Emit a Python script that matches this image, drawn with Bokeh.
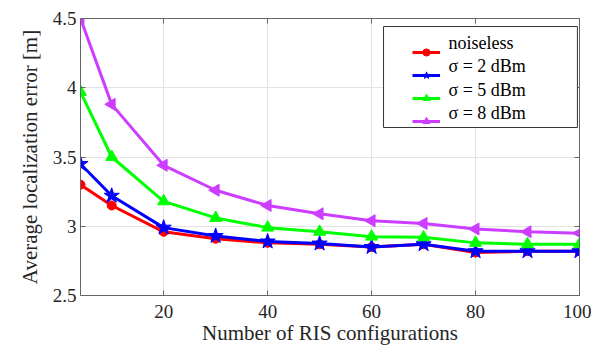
import numpy as np
from bokeh.plotting import figure
from bokeh.models import (LinearAxis, Legend, LegendItem, FixedTicker, Range1d, Label,
                          BoxAnnotation)
from bokeh.embed import file_html
from bokeh.resources import INLINE

configs = [4, 10, 20, 30, 40, 50, 60, 70, 80, 90, 100]
noiseless = [3.30, 3.15, 2.96, 2.91, 2.88, 2.87, 2.85, 2.87, 2.81, 2.82, 2.82]
sigma2 = [3.45, 3.22, 2.99, 2.93, 2.89, 2.875, 2.85, 2.87, 2.82, 2.82, 2.82]
sigma5 = [3.97, 3.50, 3.18, 3.06, 2.99, 2.96, 2.925, 2.92, 2.88, 2.87, 2.87]
sigma8 = [4.50, 3.88, 3.44, 3.26, 3.15, 3.09, 3.04, 3.02, 2.98, 2.96, 2.95]

labels = ["noiseless", "σ = 2 dBm", "σ = 5 dBm", "σ = 8 dBm"]
colors = ["#ff0000", "#0000ff", "#00ff00", "#cc3dff"]
x_ticks = [20, 40, 60, 80, 100]
y_ticks = [2.5, 3, 3.5, 4, 4.5]

FONT = "Liberation Serif"
LFONT = "'Liberation Serif', serif"

p = figure(width=591, height=347, output_backend="svg", toolbar_location=None,
           x_range=Range1d(4, 100), y_range=Range1d(2.5, 4.5),
           min_border_left=80, min_border_right=12, min_border_top=18, min_border_bottom=10)

items = []
series = [noiseless, sigma2, sigma5, sigma8]
for i, (vals, col) in enumerate(zip(series, colors)):
    r_line = p.line(configs, vals, line_color=col, line_width=3)
    if i == 0:
        r_m = p.scatter(configs, vals, marker="circle", size=9, fill_color=col, line_color=col)
    elif i == 1:
        r_m = p.scatter(configs, vals, marker="star", size=16, fill_color=col, line_color=col)
    elif i == 2:
        r_m = p.scatter(configs, vals, marker="triangle", size=12, fill_color=col, line_color=col)
    else:
        r_m = p.scatter(configs, vals, marker="triangle", size=12, angle=np.pi / 2,
                        fill_color=col, line_color=col)
    items.append(LegendItem(label=" ", renderers=[r_line, r_m]))

# legend frame (white box with dark border)
p.add_layout(BoxAnnotation(left=62.3, right=99.6, bottom=3.713, top=4.442,
                           fill_color="#ffffff", fill_alpha=1,
                           line_color="#333333", line_width=1, line_alpha=1))

legend = Legend(items=items, location=(332, 165),
                border_line_color=None, background_fill_alpha=0,
                glyph_width=28, glyph_height=18, spacing=5, padding=7,
                margin=0, label_height=18, label_width=100, label_standoff=10,
                label_text_font_size="18px")
p.add_layout(legend)

# legend texts (serif), positioned inside the legend box
label_x = 74.8
label_y = [4.325, 4.156, 3.987, 3.819]
for lab, yy in zip(labels, label_y):
    p.add_layout(Label(x=label_x, y=yy, text=lab,
                       text_font=LFONT, text_font_size="18px", text_color="#000000",
                       text_baseline="middle", text_align="left", level="overlay"))

for ax in (p.xaxis[0], p.yaxis[0]):
    ax.major_label_text_font = FONT
    ax.major_label_text_font_size = "19px"
    ax.major_label_text_color = "#262626"
    ax.axis_label_text_font = FONT
    ax.axis_label_text_font_size = "21px"
    ax.axis_label_text_font_style = "normal"
    ax.axis_label_text_color = "#262626"
    ax.axis_line_color = "#666666"
    ax.major_tick_line_color = "#666666"
    ax.major_tick_in = 5
    ax.major_tick_out = 0
    ax.minor_tick_line_color = None

p.xaxis[0].ticker = FixedTicker(ticks=x_ticks)
p.yaxis[0].ticker = FixedTicker(ticks=y_ticks)
p.yaxis[0].major_label_overrides = {2.5: "2.5", 3: "3", 3.5: "3.5", 4: "4", 4.5: "4.5"}
p.xaxis[0].axis_label = "Number of RIS configurations"
p.yaxis[0].axis_label = "Average localization error [m]"
p.xaxis[0].axis_label_standoff = 0
p.yaxis[0].axis_label_standoff = 8
p.xaxis[0].major_label_standoff = 9
p.yaxis[0].major_label_standoff = 4

top = LinearAxis(ticker=FixedTicker(ticks=x_ticks),
                 major_label_overrides={t: "" for t in x_ticks},
                 axis_line_color="#666666", major_tick_line_color="#666666",
                 major_tick_in=5, major_tick_out=0, minor_tick_line_color=None,
                 major_label_standoff=0)
right = LinearAxis(ticker=FixedTicker(ticks=y_ticks),
                   major_label_overrides={t: "" for t in y_ticks},
                   axis_line_color="#666666", major_tick_line_color="#666666",
                   major_tick_in=5, major_tick_out=0, minor_tick_line_color=None,
                   major_label_standoff=0)
p.add_layout(top, "above")
p.add_layout(right, "right")

p.xgrid.ticker = FixedTicker(ticks=x_ticks)
p.ygrid.ticker = FixedTicker(ticks=y_ticks)
p.grid.grid_line_color = "#e3e3e3"
p.grid.grid_line_width = 1
p.outline_line_color = None
p.background_fill_color = "#ffffff"

open("out.html", "w").write(file_html(p, INLINE))
